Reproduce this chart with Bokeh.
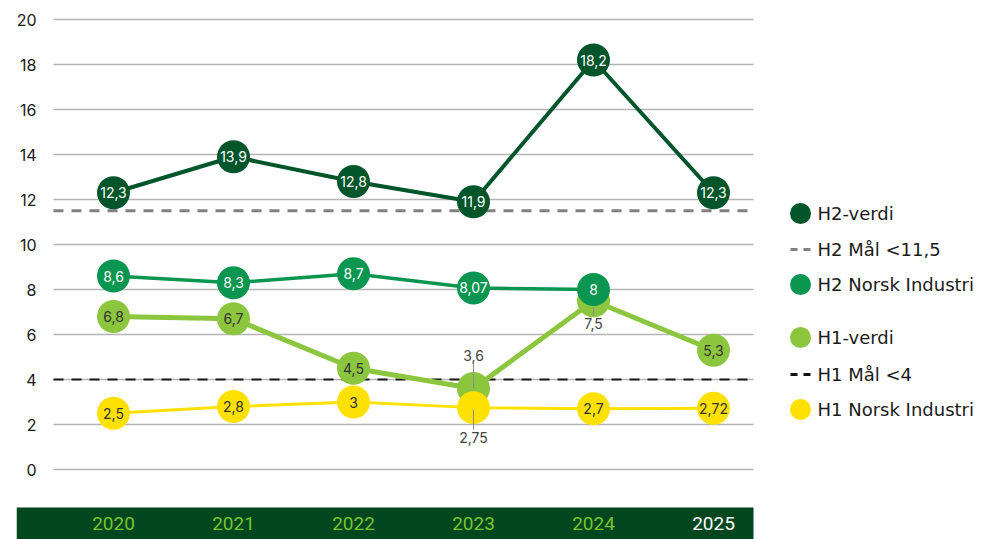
from bokeh.plotting import figure
from bokeh.models import ColumnDataSource, FixedTicker, Range1d
from bokeh.core.properties import value
from bokeh.embed import file_html
from bokeh.resources import INLINE

# ---------------- data ----------------
years = [2020, 2021, 2022, 2023, 2024, 2025]
year_labels = ["2020", "2021", "2022", "2023", "2024", "2025"]
h2_verdi = [12.3, 13.9, 12.8, 11.9, 18.2, 12.3]
h2_norsk = [8.6, 8.3, 8.7, 8.07, 8.0]          # 2020-2024
h1_verdi = [6.8, 6.7, 4.5, 3.6, 7.5, 5.3]
h1_norsk = [2.5, 2.8, 3.0, 2.75, 2.7, 2.72]
h2_maal = 11.5
h1_maal = 4
y_ticks = [0, 2, 4, 6, 8, 10, 12, 14, 16, 18, 20]
legend_labels = ["H2-verdi", "H2 Mål <11,5", "H2 Norsk Industri",
                 "H1-verdi", "H1 Mål <4", "H1 Norsk Industri"]

# ---------------- styling / geometry (pixels) ----------------
FONT = "Inter"
LEG_FONT = "DejaVu Sans"
C_H2 = "#00552b"
C_H2N = "#0a9650"
C_H1 = "#8cc63f"
C_H1N = "#ffe100"
C_BAND = "#00471f"
C_YEAR = "#7cc22e"

W, H = 987, 539
FRAME_LEFT = 16          # left edge of the year band
PLOT_LEFT = 53           # left edge of the grid
PLOT_RIGHT = 753         # right edge of grid / band
PX_X = 120.0             # px per year
PX_Y = 22.5              # px per unit
Y_TOP_PX = 19            # pixel row of y = 20
BAND_TOP_PX, BAND_BOT_PX = 507, 539

x_first_px = 113         # pixel column of first year
x_start = years[0] - (x_first_px - FRAME_LEFT) / PX_X
x_end = x_start + (W - FRAME_LEFT) / PX_X
y_end = y_ticks[-1] + Y_TOP_PX / PX_Y
y_start = y_end - H / PX_Y


def px2x(px):
    return x_start + (px - FRAME_LEFT) / PX_X


def px2y(py):
    return y_end - py / PX_Y


def fmt(v):
    return f"{v:g}".replace(".", ",")


p = figure(width=W, height=H, x_range=Range1d(x_start, x_end), y_range=Range1d(y_start, y_end),
           output_backend="svg", toolbar_location=None, x_axis_location=None,
           min_border_left=FRAME_LEFT, min_border_right=0, min_border_top=0, min_border_bottom=0)
p.outline_line_color = None
p.xgrid.visible = False
p.ygrid.grid_line_color = "#b4b4b4"
p.ygrid.grid_line_width = 1.5
p.ygrid.cross_bounds = (px2x(PLOT_LEFT), px2x(PLOT_RIGHT))
p.yaxis.ticker = FixedTicker(ticks=y_ticks)
p.yaxis.axis_line_color = None
p.yaxis.major_tick_line_color = None
p.yaxis.minor_tick_line_color = None
p.yaxis.major_tick_in = 0
p.yaxis.major_tick_out = 0
p.yaxis.major_label_standoff = -20
p.yaxis.major_label_text_font = FONT
p.yaxis.major_label_text_font_size = "16px"
p.yaxis.major_label_text_color = "#1a1a1a"

# goal lines (dashed, full grid width)
p.segment(x0=[px2x(PLOT_LEFT)], x1=[px2x(PLOT_RIGHT)], y0=[h2_maal], y1=[h2_maal],
          line_color="#808080", line_width=3, line_dash="10 8")
p.segment(x0=[px2x(PLOT_LEFT)], x1=[px2x(PLOT_RIGHT)], y0=[h1_maal], y1=[h1_maal],
          line_color="#1a1a1a", line_width=2, line_dash="10 8")

series = [
    ("h1_verdi", years, h1_verdi, C_H1, 5, "#333333"),
    ("h1_norsk", years, h1_norsk, C_H1N, 3, "#333333"),
    ("h2_norsk", years[:len(h2_norsk)], h2_norsk, C_H2N, 3.5, "white"),
    ("h2_verdi", years, h2_verdi, C_H2, 4, "white"),
]
# labels drawn outside the marker: (vertical offset px, leader length px)
outside = {("h1_verdi", 3): (-33, 25), ("h1_verdi", 4): (23, 8), ("h1_norsk", 3): (30, 20)}

for name, xs, ys, col, lw, _ in series:
    p.line(xs, ys, line_color=col, line_width=lw)
    p.scatter(xs, ys, size=33, fill_color=col, line_color=None)

for name, xs, ys, col, lw, tcol in series:
    inside = {"x": [], "y": [], "t": []}
    for i, (xv, yv) in enumerate(zip(xs, ys)):
        if (name, i) in outside:
            off, lead = outside[(name, i)]
            sign = 1 if off > 0 else -1
            edge = yv - (off - sign * 8) / PX_Y
            p.segment(x0=[xv], y0=[edge], x1=[xv], y1=[edge + sign * lead / PX_Y],
                      line_color="#8c8c8c", line_width=1)
            p.text(x=[xv], y=[yv], text=[fmt(yv)], y_offset=off, text_align="center",
                   text_baseline="middle", text_font=value(FONT), text_font_size="14px",
                   text_color="#444444")
        else:
            inside["x"].append(xv)
            inside["y"].append(yv)
            inside["t"].append(fmt(yv))
    p.text(x="x", y="y", text="t", source=ColumnDataSource(inside), text_align="center",
           text_baseline="middle", text_font=value(FONT), text_font_size="14px", text_color=tcol)

# year band
p.quad(left=[px2x(FRAME_LEFT)], right=[px2x(PLOT_RIGHT)], top=[px2y(BAND_TOP_PX)],
       bottom=[px2y(BAND_BOT_PX)], fill_color=C_BAND, line_color=None)
band_y = px2y((BAND_TOP_PX + BAND_BOT_PX) / 2)
band_src = ColumnDataSource(dict(x=years, y=[band_y] * len(years), t=year_labels,
                                 c=[C_YEAR] * (len(years) - 1) + ["white"]))
p.text(x="x", y="y", text="t", text_color="c", source=band_src, text_align="center",
       text_baseline="middle", text_font=value("Roboto"), text_font_size="19px")

# legend (two groups)
LEG_GLYPH_PX = 800
LEG_TEXT_PX = 817
leg_rows_px = [213, 249, 284, 337, 374, 409]
leg_kind = ["dot", "dash", "dot", "dot", "dash", "dot"]
leg_color = [C_H2, "#808080", C_H2N, C_H1, "#111111", C_H1N]
for lab, kind, col, row in zip(legend_labels, leg_kind, leg_color, leg_rows_px):
    gx, gy = px2x(LEG_GLYPH_PX), px2y(row)
    if kind == "dot":
        p.scatter([gx], [gy], size=21, fill_color=col, line_color=None)
    else:
        p.scatter([gx], [gy], marker="dash", size=20, line_color=col, line_width=3,
                  line_dash="7 6")
    p.text(x=[px2x(LEG_TEXT_PX)], y=[gy], text=[lab], text_align="left", text_baseline="middle",
           text_font=value(LEG_FONT), text_font_size="18px", text_color="#1a1a1a")

open("out.html", "w").write(file_html(p, INLINE))
